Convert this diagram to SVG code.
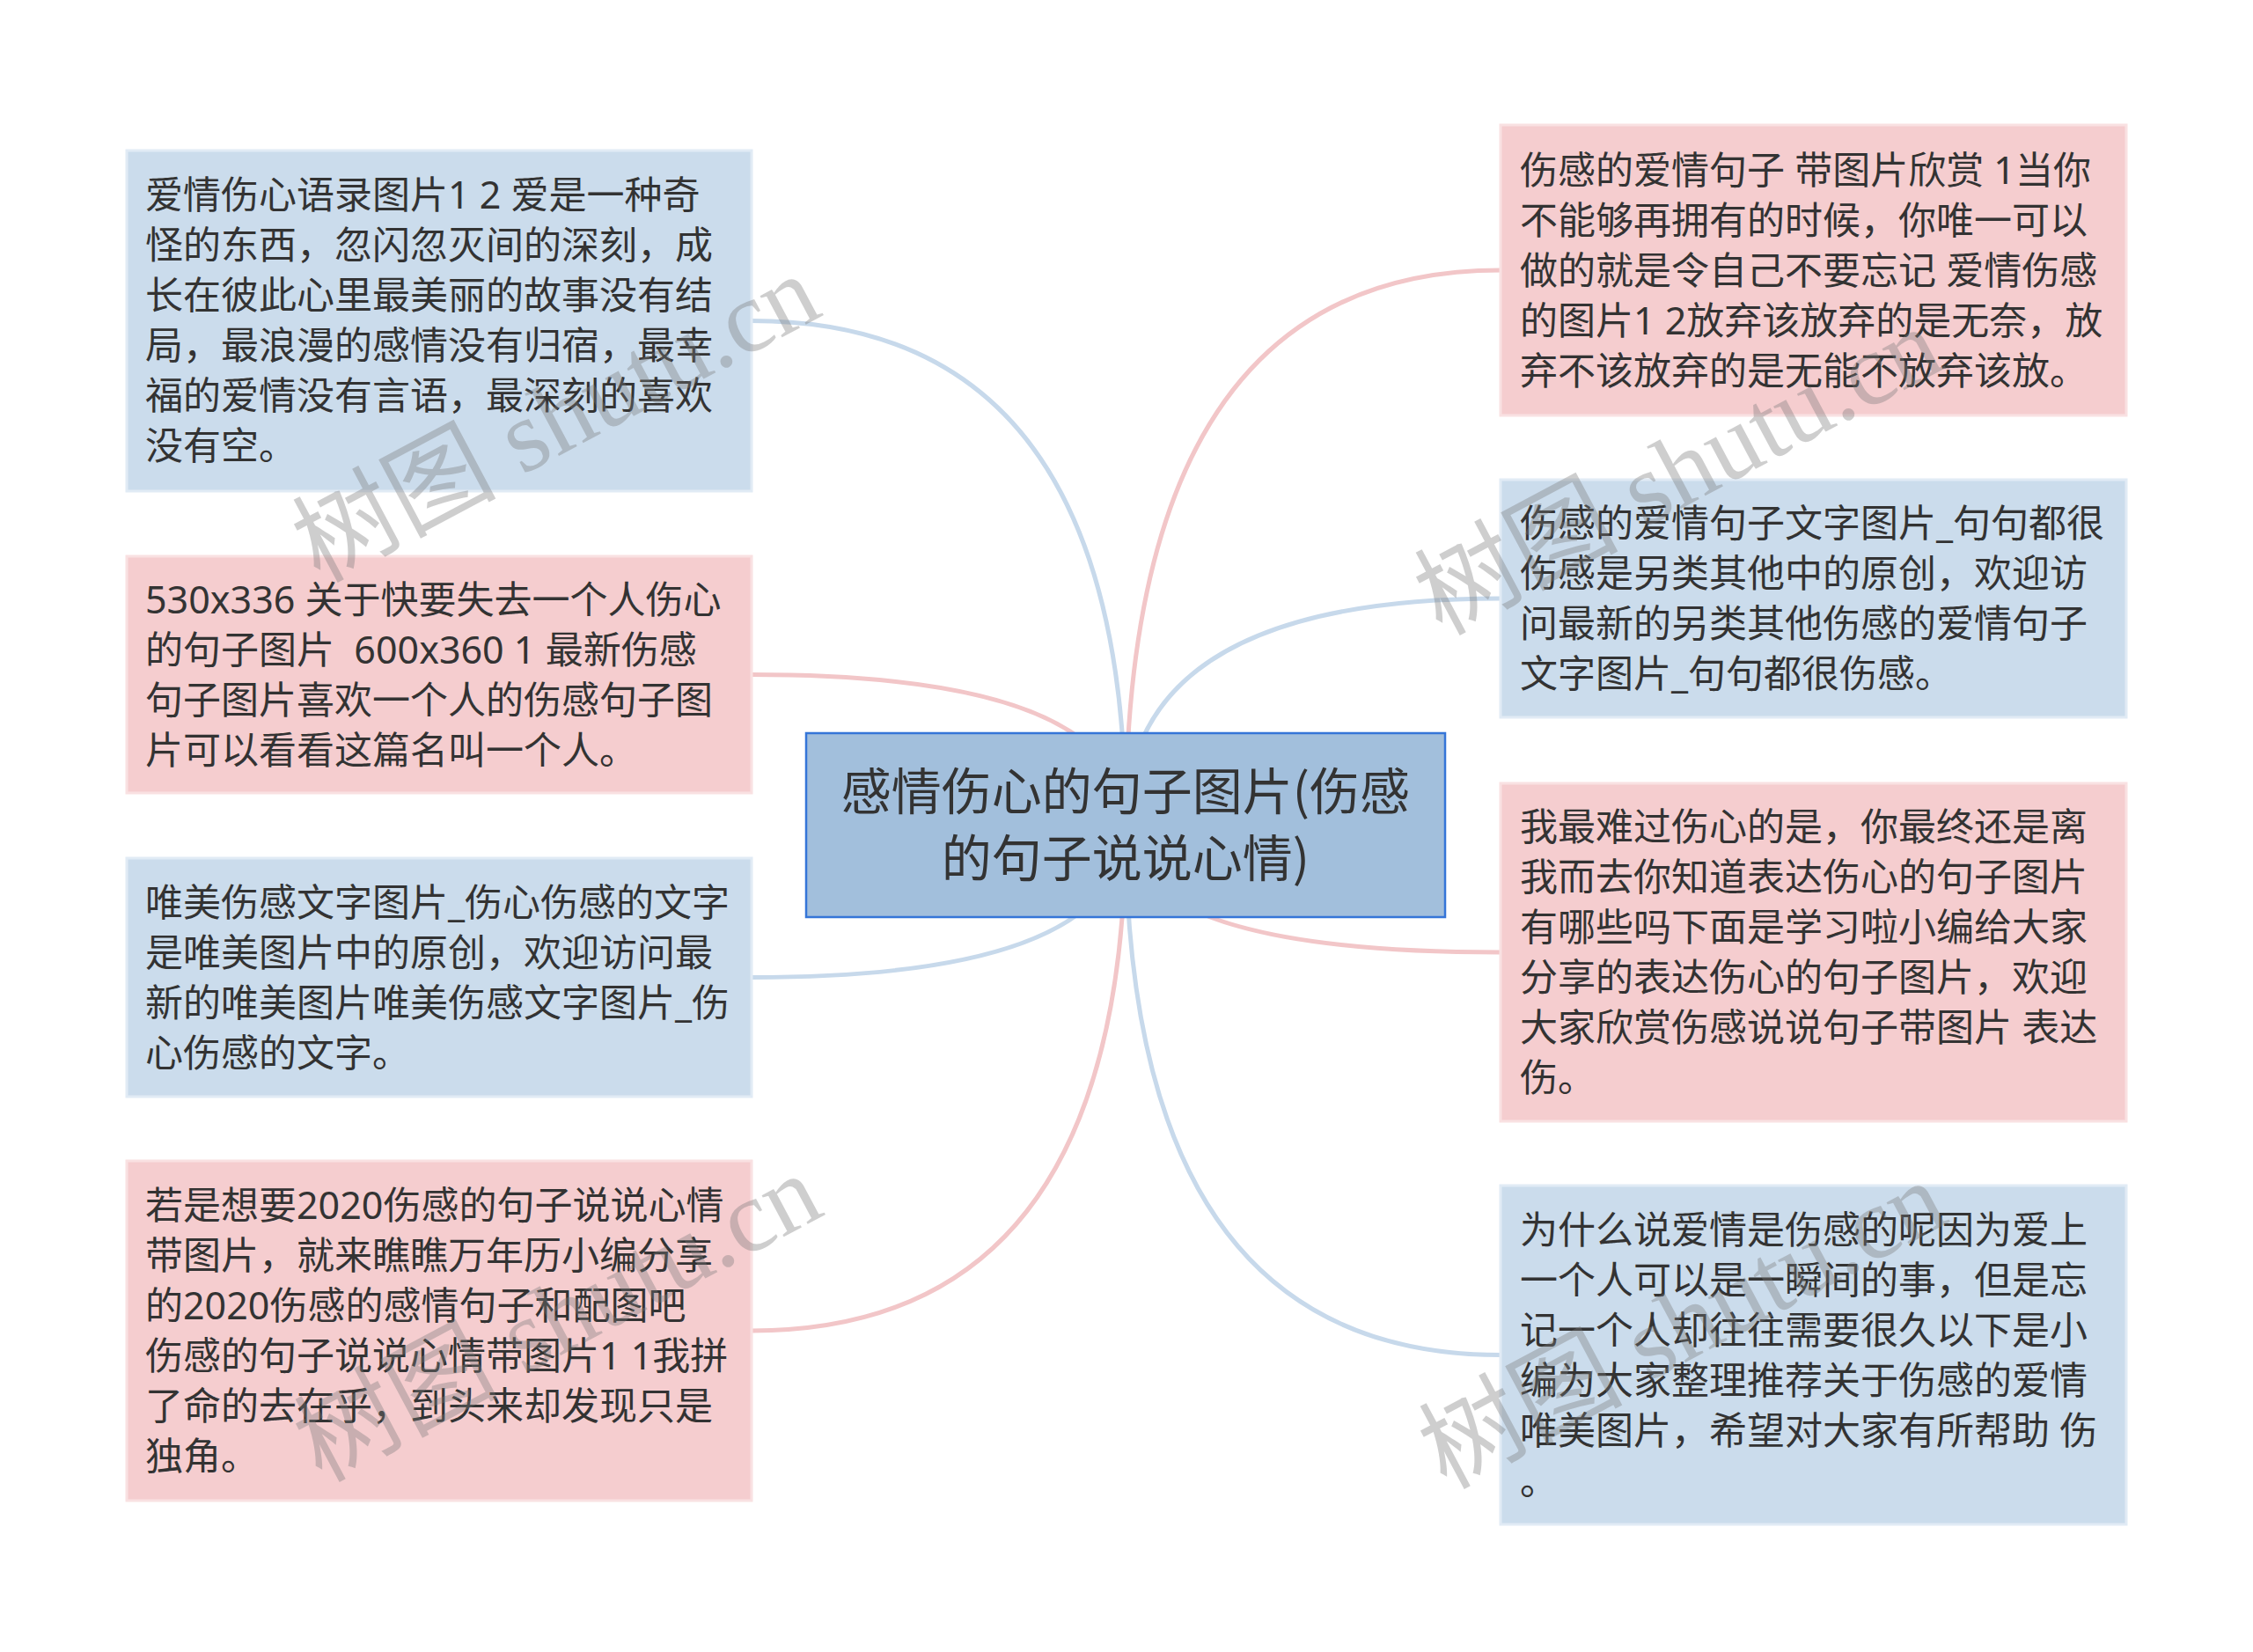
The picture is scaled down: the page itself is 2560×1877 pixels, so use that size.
<svg xmlns="http://www.w3.org/2000/svg" width="2560" height="1877" viewBox="0 0 2560 1877">
<style>
.t{font-family:"Noto Sans","Noto Sans CJK SC",sans-serif;font-size:43px;fill:#333333;white-space:pre}
.ct{font-family:"Noto Sans CJK SC","Noto Sans",sans-serif;font-size:57px;fill:#333333;text-anchor:middle}
.blue{fill:#cbdcec;stroke:#e1ebf5;stroke-width:3}
.pink{fill:#f5cdcf;stroke:#f9e1e2;stroke-width:3}
.lb{fill:none;stroke:#c7d9eb;stroke-width:5}
.lp{fill:none;stroke:#f2c6c8;stroke-width:5}
.wm{font-family:"Liberation Serif","Noto Sans CJK SC",serif;font-size:116px;fill:#7a7a7a;opacity:0.36;text-anchor:middle}
</style>
<rect width="2560" height="1877" fill="#ffffff"/>
<g id="connectors">
<path class="lb" d="M1279 937 Q1279 364.5 854 364.5"/>
<path class="lp" d="M1279 937 Q1279 766.5 854 766.5"/>
<path class="lb" d="M1279 937 Q1279 1110.5 854 1110.5"/>
<path class="lp" d="M1279 937 Q1279 1512 854 1512"/>
<path class="lp" d="M1279 937 Q1279 307 1705 307"/>
<path class="lb" d="M1279 937 Q1279 680 1705 680"/>
<path class="lp" d="M1279 937 Q1279 1082 1705 1082"/>
<path class="lb" d="M1279 937 Q1279 1539.5 1705 1539.5"/>
</g>
<g id="center">
<rect x="916" y="833" width="726" height="209" fill="#a2bfdc" stroke="#3575d8" stroke-width="2.5"/>
<text class="ct" x="1279" y="920">感情伤心的句子图片(伤感</text>
<text class="ct" x="1279" y="996">的句子说说心情)</text>
</g>
<g id="node-l1">
<rect class="blue" x="144" y="171" width="710" height="387"/>
<text class="t" x="165" y="237">爱情伤心语录图片1 2 爱是一种奇</text>
<text class="t" x="165" y="294">怪的东西，忽闪忽灭间的深刻，成</text>
<text class="t" x="165" y="351">长在彼此心里最美丽的故事没有结</text>
<text class="t" x="165" y="408">局，最浪漫的感情没有归宿，最幸</text>
<text class="t" x="165" y="465">福的爱情没有言语，最深刻的喜欢</text>
<text class="t" x="165" y="522">没有空。</text>
</g>
<g id="node-l2">
<rect class="pink" x="144" y="632" width="710" height="269"/>
<text class="t" x="165" y="697">530x336 关于快要失去一个人伤心</text>
<text class="t" x="165" y="754">的句子图片  600x360 1 最新伤感</text>
<text class="t" x="165" y="811">句子图片喜欢一个人的伤感句子图</text>
<text class="t" x="165" y="868">片可以看看这篇名叫一个人。</text>
</g>
<g id="node-l3">
<rect class="blue" x="144" y="975" width="710" height="271"/>
<text class="t" x="165" y="1041">唯美伤感文字图片_伤心伤感的文字</text>
<text class="t" x="165" y="1098">是唯美图片中的原创，欢迎访问最</text>
<text class="t" x="165" y="1155">新的唯美图片唯美伤感文字图片_伤</text>
<text class="t" x="165" y="1212">心伤感的文字。</text>
</g>
<g id="node-l4">
<rect class="pink" x="144" y="1319" width="710" height="386"/>
<text class="t" x="165" y="1385">若是想要2020伤感的句子说说心情</text>
<text class="t" x="165" y="1442">带图片，就来瞧瞧万年历小编分享</text>
<text class="t" x="165" y="1499">的2020伤感的感情句子和配图吧</text>
<text class="t" x="165" y="1556">伤感的句子说说心情带图片1 1我拼</text>
<text class="t" x="165" y="1613">了命的去在乎，到头来却发现只是</text>
<text class="t" x="165" y="1670">独角。</text>
</g>
<g id="node-r1">
<rect class="pink" x="1705" y="142" width="711" height="330"/>
<text class="t" x="1727" y="209">伤感的爱情句子 带图片欣赏 1当你</text>
<text class="t" x="1727" y="266">不能够再拥有的时候，你唯一可以</text>
<text class="t" x="1727" y="323">做的就是令自己不要忘记 爱情伤感</text>
<text class="t" x="1727" y="380">的图片1 2放弃该放弃的是无奈，放</text>
<text class="t" x="1727" y="437">弃不该放弃的是无能不放弃该放。</text>
</g>
<g id="node-r2">
<rect class="blue" x="1705" y="545" width="711" height="270"/>
<text class="t" x="1727" y="610">伤感的爱情句子文字图片_句句都很</text>
<text class="t" x="1727" y="667">伤感是另类其他中的原创，欢迎访</text>
<text class="t" x="1727" y="724">问最新的另类其他伤感的爱情句子</text>
<text class="t" x="1727" y="781">文字图片_句句都很伤感。</text>
</g>
<g id="node-r3">
<rect class="pink" x="1705" y="890" width="711" height="384"/>
<text class="t" x="1727" y="955">我最难过伤心的是，你最终还是离</text>
<text class="t" x="1727" y="1012">我而去你知道表达伤心的句子图片</text>
<text class="t" x="1727" y="1069">有哪些吗下面是学习啦小编给大家</text>
<text class="t" x="1727" y="1126">分享的表达伤心的句子图片，欢迎</text>
<text class="t" x="1727" y="1183">大家欣赏伤感说说句子带图片 表达</text>
<text class="t" x="1727" y="1240">伤。</text>
</g>
<g id="node-r4">
<rect class="blue" x="1705" y="1347" width="711" height="385"/>
<text class="t" x="1727" y="1413">为什么说爱情是伤感的呢因为爱上</text>
<text class="t" x="1727" y="1470">一个人可以是一瞬间的事，但是忘</text>
<text class="t" x="1727" y="1527">记一个人却往往需要很久以下是小</text>
<text class="t" x="1727" y="1584">编为大家整理推荐关于伤感的爱情</text>
<text class="t" x="1727" y="1641">唯美图片，希望对大家有所帮助 伤</text>
<text class="t" x="1727" y="1698">。</text>
</g>
<g id="watermarks">
<text class="wm" transform="translate(650 510) rotate(-28)">树图 shutu.cn</text>
<text class="wm" transform="translate(652 1532) rotate(-28)">树图 shutu.cn</text>
<text class="wm" transform="translate(1925 570) rotate(-28)">树图 shutu.cn</text>
<text class="wm" transform="translate(1930 1540) rotate(-28)">树图 shutu.cn</text>
</g>
</svg>
